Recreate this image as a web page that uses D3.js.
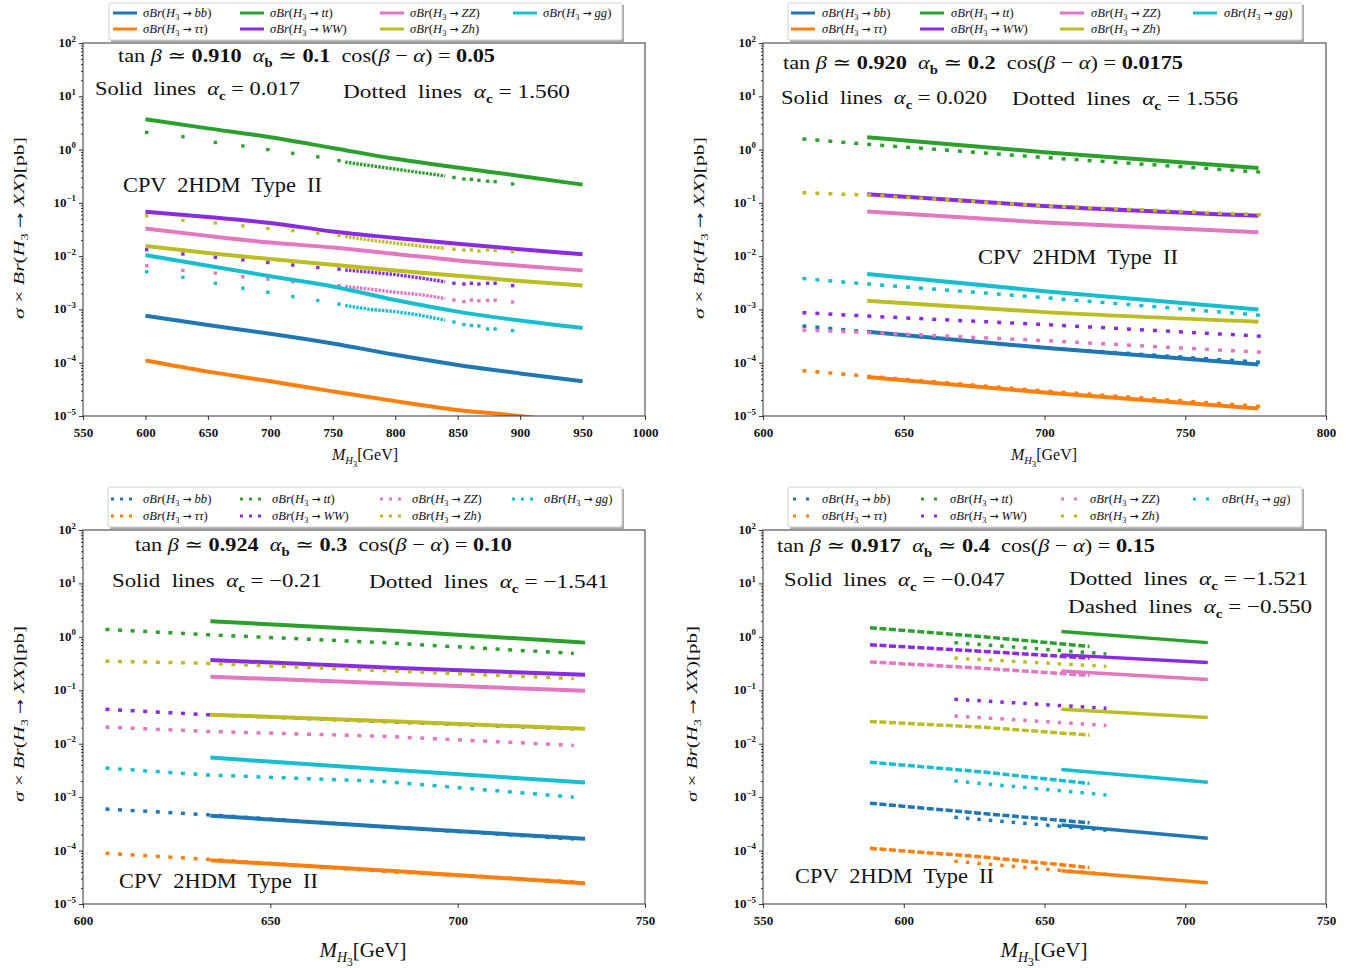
<!DOCTYPE html>
<html><head><meta charset="utf-8">
<script src="https://cdn.jsdelivr.net/npm/d3@7"></script>
<style>body{margin:0;background:#fff} svg{display:block} text{white-space:pre}</style>
</head><body>
<svg id="c" width="1363" height="968"></svg>
<script>
// ---------- shared ----------
const decays = ["bb", "ττ", "tt", "WW", "ZZ", "Zh", "gg"];
const colors = ["#1f77b4", "#ff7f0e", "#2ca02c", "#8a2be2", "#e377c2", "#bcbd22", "#17becf"];
const legendOrder = ["bb", "tt", "ZZ", "gg", "ττ", "WW", "Zh"];
const yTicks = [1e-5, 1e-4, 1e-3, 1e-2, 1e-1, 1, 10, 100];
const yTickExp = ["−5", "−4", "−3", "−2", "−1", "0", "1", "2"];

// ---------- panel 1 (top left) ----------
const p1XTicks = [550, 600, 650, 700, 750, 800, 850, 900, 950, 1000];
const p1SolidX = [600, 650, 700, 750, 800, 850, 900, 950];
const p1Solid = [
  [0.00076, 0.00051, 0.00035, 0.00023, 0.000141, 9.1e-5, 6.3e-5, 4.5e-5],   // bb
  [1.1e-4, 6.8e-5, 4.5e-5, 2.9e-5, 1.9e-5, 1.3e-5, 1.0e-5, 7e-6],          // tautau
  [3.7, 2.5, 1.7, 1.07, 0.67, 0.46, 0.32, 0.22],                             // tt
  [0.068, 0.054, 0.042, 0.029, 0.022, 0.017, 0.0135, 0.0108],                // WW
  [0.033, 0.024, 0.018, 0.0145, 0.011, 0.0083, 0.0066, 0.0054],              // ZZ
  [0.0155, 0.0115, 0.0088, 0.0069, 0.0054, 0.0043, 0.0034, 0.0028],          // Zh
  [0.0105, 0.0066, 0.0042, 0.0027, 0.0015, 0.00091, 0.00062, 0.00045]        // gg
];
const p1DotX = [601, 630, 656, 678, 698, 718, 738, 755];
const p1BandX = [760, 780, 800, 820, 840];
const p1TailX = [847, 855, 861, 867, 874, 880, 894];
const p1Dot = [
  null, null,
  [2.1, 1.74, 1.36, 1.17, 1.0, 0.85, 0.73, 0.62],
  [0.0132, 0.011, 0.0095, 0.0085, 0.0076, 0.0068, 0.0061, 0.0057],
  [0.0066, 0.0054, 0.0048, 0.0041, 0.0037, 0.0033, 0.003, 0.0028],
  [0.057, 0.047, 0.042, 0.037, 0.033, 0.030, 0.027, 0.0245],
  [0.0051, 0.004, 0.0031, 0.0025, 0.0021, 0.00174, 0.00147, 0.00126]
];
const p1Band = [
  null, null,
  [0.58, 0.50, 0.43, 0.37, 0.32],
  [0.0055, 0.005, 0.0045, 0.0039, 0.0033],
  [0.0027, 0.0024, 0.0021, 0.0019, 0.0016],
  [0.0234, 0.020, 0.0175, 0.0155, 0.014],
  [0.00118, 0.001, 0.00091, 0.00078, 0.00063]
];
const p1Tail = [
  null, null,
  [0.30, 0.28, 0.277, 0.265, 0.255, 0.25, 0.226],
  [0.0031, 0.003, 0.0031, 0.003, 0.0031, 0.0031, 0.0028],
  [0.0015, 0.0014, 0.0015, 0.00145, 0.00148, 0.00148, 0.00138],
  [0.0135, 0.013, 0.0131, 0.0125, 0.0131, 0.0128, 0.0121],
  [0.00058, 0.00052, 0.0005, 0.00049, 0.00043, 0.00043, 0.0004]
];

// ---------- panel 2 (top right) ----------
const p2XTicks = [600, 650, 700, 750, 800];
const p2SolidX = [637, 700, 776];
const p2Solid = [
  [0.00038, 0.00019, 9.3e-5],
  [5.4e-5, 2.75e-5, 1.38e-5],
  [1.7, 0.89, 0.45],
  [0.145, 0.087, 0.057],
  [0.069, 0.043, 0.028],
  [0.00145, 0.00089, 0.00059],
  [0.0046, 0.0022, 0.001]
];
const p2DotX = [614, 637, 700, 779];
const p2Dot = [
  [0.00049, 0.00038, 0.00019, 0.0001],
  [7.1e-5, 5.6e-5, 2.95e-5, 1.48e-5],
  [1.58, 1.26, 0.71, 0.37],
  [0.00087, 0.00075, 0.00052, 0.00031],
  [0.00041, 0.00037, 0.00026, 0.000155],
  [0.155, 0.14, 0.088, 0.059],
  [0.0038, 0.0030, 0.00166, 0.00076]
];

// ---------- panel 3 (bottom left) ----------
const p3XTicks = [600, 650, 700, 750];
const p3SolidX = [634, 684, 734];
const p3Solid = [
  [0.00045, 0.00027, 0.000166],
  [6.6e-5, 4.1e-5, 2.45e-5],
  [1.96, 1.29, 0.78],
  [0.37, 0.26, 0.195],
  [0.18, 0.132, 0.098],
  [0.035, 0.026, 0.019],
  [0.0055, 0.0032, 0.00188]
];
const p3DotX = [606, 633, 680, 731];
const p3Dot = [
  [0.0006, 0.00047, 0.00028, 0.000165],
  [8.9e-5, 6.9e-5, 4.1e-5, 2.6e-5],
  [1.38, 1.1, 0.78, 0.49],
  [0.044, 0.035, 0.026, 0.019],
  [0.0205, 0.017, 0.0138, 0.0093],
  [0.35, 0.32, 0.234, 0.166],
  [0.0035, 0.0026, 0.00197, 0.001]
];

// ---------- panel 4 (bottom right) ----------
const p4XTicks = [550, 600, 650, 700, 750];
const p4SolidX = [656, 708];
const p4Solid = [
  [0.0003, 0.00017],
  [4.2e-5, 2.5e-5],
  [1.26, 0.78],
  [0.46, 0.33],
  [0.23, 0.16],
  [0.044, 0.031],
  [0.0033, 0.0019]
];
const p4DashX = [588, 627, 666];
const p4Dash = [
  [0.00077, 0.0005, 0.00033],
  [1.1e-4, 7.7e-5, 4.8e-5],
  [1.48, 1.02, 0.66],
  [0.71, 0.54, 0.40],
  [0.34, 0.26, 0.19],
  [0.026, 0.0205, 0.0145],
  [0.0045, 0.003, 0.0018]
];
const p4DotX = [618, 672];
const p4Dot = [
  [0.00042, 0.00024],
  [6.3e-5, 3.6e-5],
  [0.78, 0.48],
  [0.068, 0.046],
  [0.033, 0.022],
  [0.40, 0.28],
  [0.002, 0.0011]
];

// ---------- drawing ----------
const SERIF = "'Liberation Serif', 'DejaVu Serif', serif";
const SYM = "'DejaVu Sans', sans-serif";
const svg = d3.select("#c");

function rich(sel, x, y, parts, size, opt = {}) {
  const t = sel.append("text").attr("x", x).attr("y", y)
    .attr("font-family", SERIF).attr("font-size", size).attr("fill", "#111");
  let shift = 0;
  parts.forEach(p => {
    const s = p[0], f = p[1] || "";
    const ts = t.append("tspan").text(s);
    let target = 0, fs = size;
    if (f.includes("__")) { target = size * 0.45; fs = size * 0.55; }
    else if (f.includes("_")) { target = size * 0.25; fs = size * 0.66; }
    else if (f.includes("^")) { target = -size * 0.42; fs = size * 0.68; }
    if (target !== shift) { ts.attr("dy", target - shift); shift = target; }
    if (fs !== size) ts.attr("font-size", fs);
    if (f.includes("i")) ts.attr("font-style", "italic");
    if (f.includes("b")) ts.attr("font-weight", "bold");
    if (f.includes("a")) ts.attr("font-family", SYM).attr("font-style", "normal").attr("font-size", size * 0.85);
  });
  if (opt.width) t.attr("textLength", opt.width).attr("lengthAdjust", "spacingAndGlyphs");
  if (opt.anchor) t.attr("text-anchor", opt.anchor);
  if (opt.transform) t.attr("transform", opt.transform);
  return t;
}

function mathParts(decay) {
  return [["σBr", "i"], ["("], ["H", "i"], ["3", "_"], [" "], ["→", "a"], [" "], [decay, "i"], [")"]];
}

function panel(cfg) {
  const g = svg.append("g");
  const x = d3.scaleLinear().domain(cfg.xdom).range([cfg.L, cfg.R]);
  const y = d3.scaleLog().domain([1e-5, 1e2]).range([cfg.B, cfg.T]);
  const cid = "clip" + cfg.id;
  svg.append("clipPath").attr("id", cid).append("rect")
    .attr("x", cfg.L).attr("y", cfg.T).attr("width", cfg.R - cfg.L).attr("height", cfg.B - cfg.T);

  // axes ticks
  const minor = [];
  for (let e = -5; e < 2; e++) for (let k = 2; k <= 9; k++) minor.push(k * Math.pow(10, e));
  const ym = g.append("g").attr("transform", `translate(${cfg.L},0)`)
    .call(d3.axisLeft(y).tickValues(minor).tickSize(2).tickFormat(""));
  const yM = g.append("g").attr("transform", `translate(${cfg.L},0)`)
    .call(d3.axisLeft(y).tickValues(yTicks).tickSize(4).tickFormat(""));
  const xa = g.append("g").attr("transform", `translate(0,${cfg.B})`)
    .call(d3.axisBottom(x).tickValues(cfg.xticks).tickSize(4).tickPadding(5).tickFormat(d3.format("d")));
  [ym, yM, xa].forEach(a => { a.select(".domain").remove(); a.selectAll("line").attr("stroke", "#333"); });
  xa.selectAll("text").attr("font-family", SERIF).attr("font-size", 13).attr("font-weight", "bold")
    .attr("fill", "#111").attr("dy", "0.95em");
  yTicks.forEach((v, i) => {
    rich(g, cfg.L - 7, y(v) + 4, [["10"], [yTickExp[i], "^"]], 13, { anchor: "end" })
      .attr("font-weight", "bold");
  });

  const plot = g.append("g").attr("clip-path", `url(#${cid})`);
  const line = (xs, curve) => d3.line().x((d, i) => x(xs[i])).y(d => y(d)).curve(curve || d3.curveLinear);

  decays.forEach((d, k) => {
    const c = colors[k];
    if (cfg.solid && cfg.solid[k]) {
      plot.append("path").attr("d", line(cfg.solidX, d3.curveMonotoneX)(cfg.solid[k]))
        .attr("fill", "none").attr("stroke", c).attr("stroke-width", cfg.sw);
    }
    if (cfg.dash && cfg.dash[k]) {
      plot.append("path").attr("d", line(cfg.dashX)(cfg.dash[k]))
        .attr("fill", "none").attr("stroke", c).attr("stroke-width", 3.5)
        .attr("stroke-dasharray", "7,2.5");
    }
    if (cfg.dot && cfg.dot[k]) {
      if (cfg.sparse) {
        cfg.dot[k].forEach((v, i) => {
          plot.append("rect").attr("x", x(cfg.dotX[i]) - 1.7).attr("y", y(v) - 1.7)
            .attr("width", 3.4).attr("height", 3.4).attr("fill", c);
        });
      } else {
        plot.append("path").attr("d", line(cfg.dotX)(cfg.dot[k]))
          .attr("fill", "none").attr("stroke", c).attr("stroke-width", 3.5)
          .attr("stroke-dasharray", cfg.dotDash);
      }
    }
    if (cfg.band && cfg.band[k]) {
      plot.append("path").attr("d", line(cfg.bandX)(cfg.band[k]))
        .attr("fill", "none").attr("stroke", c).attr("stroke-width", 3.4)
        .attr("stroke-dasharray", "2.5,1.2");
      cfg.tail[k].forEach((v, i) => {
        plot.append("rect").attr("x", x(cfg.tailX[i]) - 1.7).attr("y", y(v) - 1.7)
          .attr("width", 3.4).attr("height", 3.4).attr("fill", c);
      });
    }
  });

  // frame
  g.append("rect").attr("x", cfg.L).attr("y", cfg.T).attr("width", cfg.R - cfg.L).attr("height", cfg.B - cfg.T)
    .attr("fill", "none").attr("stroke", "#333").attr("stroke-width", 1);

  // legend
  const lg = cfg.legend;
  g.append("rect").attr("x", lg.x + 2).attr("y", lg.y + 2).attr("width", lg.w).attr("height", lg.h)
    .attr("fill", "#888").attr("opacity", 0.7);
  g.append("rect").attr("x", lg.x).attr("y", lg.y).attr("width", lg.w).attr("height", lg.h)
    .attr("fill", "#fff").attr("stroke", "#d0d0d0").attr("rx", 2);
  legendOrder.forEach((d, j) => {
    const k = decays.indexOf(d);
    const col = j % 4, row = Math.floor(j / 4);
    const hx = lg.cols[col], hy = lg.rows[row];
    if (lg.kind === "solid") {
      g.append("line").attr("x1", hx).attr("x2", hx + 24).attr("y1", hy).attr("y2", hy)
        .attr("stroke", colors[k]).attr("stroke-width", 3);
    } else {
      const offs = lg.kind === "dot3" ? [0, 9, 18] : [0, 13];
      offs.forEach(o => g.append("rect").attr("x", hx + o).attr("y", hy - 1.5)
        .attr("width", 3).attr("height", 3).attr("fill", colors[k]));
    }
    rich(g, hx + lg.tx, hy + 4, mathParts(d), 12.6);
  });

  // annotations
  cfg.texts.forEach(t => rich(g, t.x, t.y, t.parts, t.size, { width: t.w }));

  // axis labels
  rich(g, cfg.ylab.x, cfg.ylab.y,
    [["σ", "i"], [" × "], ["Br", "i"], ["("], ["H", "i"], ["3", "_"], [" "], ["→", "a"], [" "], ["XX", "i"], [")[pb]"]],
    cfg.ylab.size, { anchor: "middle", width: cfg.ylab.w, transform: `rotate(-90,${cfg.ylab.x},${cfg.ylab.y})` });
  rich(g, cfg.xlab.x, cfg.xlab.y, [["M", "i"], ["H", "_i"], ["3", "__"], ["[GeV]"]], cfg.xlab.size, { anchor: "middle" });
}

const tanParts = (tb, ab, cb) => [["tan "], ["β", "i"], [" ≃ "], [tb, "b"], ["  "], ["α", "i"], ["b", "_b"],
  [" ≃ "], [ab, "b"], ["  cos("], ["β", "i"], [" − "], ["α", "i"], [") = "], [cb, "b"]];
const acParts = (lbl, v) => [[lbl + "  lines  "], ["α", "i"], ["c", "_b"], [" = " + v]];
const cpv = [["CPV  2HDM  Type  II"]];

panel({
  id: 1, L: 83, R: 645, T: 43, B: 416, xdom: [550, 1000], xticks: p1XTicks, sw: 4,
  solidX: p1SolidX, solid: p1Solid, dotX: p1DotX, dot: p1Dot, sparse: true,
  bandX: p1BandX, band: p1Band, tailX: p1TailX, tail: p1Tail,
  legend: { x: 109, y: 3, w: 513, h: 37, kind: "solid", cols: [113, 240, 380, 513], rows: [13, 29], tx: 30 },
  texts: [
    { x: 118, y: 62, parts: tanParts("0.910", "0.1", "0.05"), size: 19, w: 377 },
    { x: 95, y: 95, parts: acParts("Solid", "0.017"), size: 19, w: 205 },
    { x: 343, y: 98, parts: acParts("Dotted", "1.560"), size: 19, w: 227 },
    { x: 123, y: 192, parts: cpv, size: 21, w: 199 }
  ],
  ylab: { x: 24, y: 228, size: 15, w: 182 }, xlab: { x: 365, y: 460, size: 16 }
});

panel({
  id: 2, L: 763, R: 1326, T: 43, B: 416, xdom: [600, 800], xticks: p2XTicks, sw: 4,
  solidX: p2SolidX, solid: p2Solid, dotX: p2DotX, dot: p2Dot, dotDash: "4,9",
  legend: { x: 788, y: 3, w: 514, h: 37, kind: "solid", cols: [791, 920, 1060, 1193], rows: [13, 29], tx: 31 },
  texts: [
    { x: 783, y: 69, parts: tanParts("0.920", "0.2", "0.0175"), size: 19, w: 400 },
    { x: 781, y: 104, parts: acParts("Solid", "0.020"), size: 19, w: 206 },
    { x: 1012, y: 105, parts: acParts("Dotted", "1.556"), size: 19, w: 226 },
    { x: 978, y: 264, parts: cpv, size: 21, w: 200 }
  ],
  ylab: { x: 704, y: 228, size: 15, w: 182 }, xlab: { x: 1044, y: 460, size: 16 }
});

panel({
  id: 3, L: 83, R: 645, T: 530, B: 904, xdom: [600, 750], xticks: p3XTicks, sw: 4,
  solidX: p3SolidX, solid: p3Solid, dotX: p3DotX, dot: p3Dot, dotDash: "4,8.6",
  legend: { x: 108, y: 487, w: 514, h: 40, kind: "dot3", cols: [111, 240, 380, 512], rows: [499, 516], tx: 32 },
  texts: [
    { x: 135, y: 551, parts: tanParts("0.924", "0.3", "0.10"), size: 19, w: 377 },
    { x: 112, y: 587, parts: acParts("Solid", "−0.21"), size: 19, w: 210 },
    { x: 369, y: 588, parts: acParts("Dotted", "−1.541"), size: 19, w: 240 },
    { x: 119, y: 888, parts: cpv, size: 21, w: 199 }
  ],
  ylab: { x: 24, y: 714, size: 15, w: 176 }, xlab: { x: 363, y: 957, size: 21 }
});

panel({
  id: 4, L: 763, R: 1326, T: 530, B: 904, xdom: [550, 750], xticks: p4XTicks, sw: 3.5,
  solidX: p4SolidX, solid: p4Solid, dashX: p4DashX, dash: p4Dash, dotX: p4DotX, dot: p4Dot, dotDash: "3.5,8",
  legend: { x: 788, y: 487, w: 514, h: 40, kind: "dot2", cols: [793, 921, 1061, 1193], rows: [499, 516], tx: 29 },
  texts: [
    { x: 777, y: 552, parts: tanParts("0.917", "0.4", "0.15"), size: 19, w: 378 },
    { x: 784, y: 586, parts: acParts("Solid", "−0.047"), size: 19, w: 221 },
    { x: 1069, y: 585, parts: acParts("Dotted", "−1.521"), size: 19, w: 239 },
    { x: 1068, y: 613, parts: acParts("Dashed", "−0.550"), size: 19, w: 244 },
    { x: 795, y: 883, parts: cpv, size: 21, w: 199 }
  ],
  ylab: { x: 697, y: 714, size: 15, w: 176 }, xlab: { x: 1044, y: 957, size: 21 }
});
</script>
</body></html>
